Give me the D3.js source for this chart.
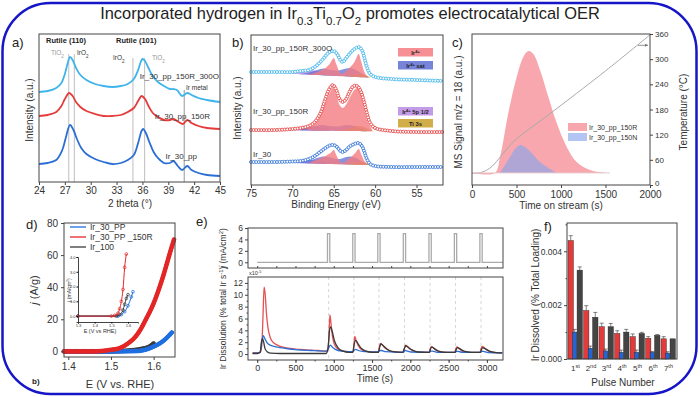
<!DOCTYPE html>
<html>
<head>
<meta charset="utf-8">
<script src="https://cdn.jsdelivr.net/npm/d3@7"></script>
<style>
body { margin: 0; background: #fff; }
svg { font-family: "Liberation Sans", Arial, sans-serif; }
</style>
</head>
<body>
<div id="fig"></div>
<script>
// ---- data ----
// a) XRD patterns [2theta, intensity a.u.]
const xrdTicks = [24, 27, 30, 33, 36, 39, 42, 45];
const xrd300O = [[24,90],[25,91],[26,94],[26.6,99],[27.0,108],[27.3,118],[27.6,125],[27.9,122],[28.3,114],[28.8,107],[29.5,102],[30.5,98],[31.5,96],[32.5,95],[33.5,96],[34.3,98],[35.0,103],[35.5,112],[35.8,120],[36.0,123],[36.3,121],[36.7,114],[37.2,106],[37.8,100],[38.5,96],[39.2,93],[39.6,93],[40.0,92],[40.6,86],[41.2,89],[41.7,87],[42.5,84],[43.5,82],[45,80]];
const xrd150R = [[24,66],[25,67],[26,70],[26.6,76],[27.0,83],[27.5,89],[27.9,86],[28.3,80],[28.8,75],[29.5,71],[30.5,68],[31.5,66],[32.5,66],[33.5,67],[34.3,70],[35.0,74],[35.5,81],[35.9,86],[36.3,83],[36.7,76],[37.2,69],[37.8,65],[38.5,62],[39.2,62],[39.6,63],[40.2,60],[40.7,58],[41.2,62],[41.7,59],[42.5,56],[43.5,54],[45,53]];
const xrdPP = [[24,18],[25,19],[26,22],[26.7,32],[27.1,44],[27.6,57],[28.0,52],[28.4,43],[28.9,34],[29.5,28],[30.5,23],[31.5,20],[32.5,18],[33.5,19],[34.3,22],[35.0,27],[35.5,39],[35.9,51],[36.1,53],[36.4,49],[36.8,40],[37.3,30],[37.8,24],[38.5,19],[39.2,19],[39.6,21],[40.1,16],[40.6,12],[41.2,16],[41.7,12],[42.5,9],[43.5,7],[45,6]];
const refLines = [27.45, 28.1, 34.9, 36.25];
const irMetal = 40.85;

// b) XPS Ir 4f / Ti 3s [binding energy eV, intensity]
const xpsTicks = [75, 70, 65, 60, 55];
const bgTop = [113, 104], bgMid = [55, 53], bgBot = [23, 18];
const envTop = [[75,113],[72,113],[70,113],[69,114],[68,115],[67.3,118],[66.5,124],[66,129],[65.5,133],[65,134],[64.6,131],[64.2,125],[63.9,123],[63.5,127],[63,132],[62.5,136],[62,138],[61.6,135],[61.3,127],[61,118],[60.6,111],[60,108],[58,106],[55,105],[51.8,104]];
const envMid = [[75,55],[72,55],[70,56],[69,57],[68,59],[67.3,63],[66.6,72],[66.1,84],[65.6,95],[65.1,100],[64.7,95],[64.3,86],[63.9,83],[63.5,86],[63.1,93],[62.6,99],[62.2,99],[61.8,95],[61.4,85],[61.0,72],[60.6,62],[60,57],[58,54],[55,53],[51.8,53]];
const envBot = [[75,23],[72,23],[70,23.5],[69,24],[68,26],[67.3,29],[66.5,34],[66,37],[65.5,39.5],[65,40],[64.6,38],[64.2,34],[63.9,33],[63.5,35],[63,39],[62.5,41],[62,42],[61.6,39],[61.3,33],[61,26],[60.6,21],[60,19],[58,18],[55,18],[51.8,18]];
const ir4Top = [[68,110.5],[67,113],[66,117],[65.5,121],[65,127],[64.7,121],[64.3,113],[64,111],[63.5,114],[63,118],[62.5,123],[62,131],[61.7,124],[61.3,113],[60.9,108]];
const satTop = [[69,111],[68,112.5],[67,115],[66.2,116.5],[65.3,115],[64.5,114.5],[63.5,116.5],[63,117],[62.3,115],[61.5,111],[60.8,108]];
const p5Top = [[70,113],[68.8,114.5],[68,115],[67,114],[66,112]];
const ti3sTop = [[63.5,108],[62.5,110],[62,111],[61.3,110],[60.6,108]];
const ir4Mid = [[68.2,57],[67.3,61],[66.6,70],[66,82],[65.5,92],[65.1,97],[64.7,90],[64.3,80],[63.9,77],[63.4,82],[62.9,90],[62.4,96],[62.1,97],[61.7,89],[61.3,75],[60.9,63],[60.4,56]];
const satMid = [[69,56],[67.5,58.5],[66.5,60],[65.5,59],[64.5,58.5],[63.5,60],[62.5,59],[61.5,56],[61,55]];
const p5Mid = [[70,55.5],[68.5,57.5],[67.5,58.5],[66.5,57.5],[65.5,56]];
const ti3sMid = [[64,54.5],[63,57],[62.2,59],[61.5,58.5],[60.8,56],[60.2,54]];
const ir4Bot = [[67.8,23],[66.8,26],[66,29],[65.4,32],[65,35],[64.7,30],[64.3,24],[63.9,22],[63.4,25],[62.9,28],[62.4,32],[62,36],[61.7,31],[61.3,24],[60.9,20]];
const satBot = [[69,23],[67.8,25],[66.8,27.5],[66.1,28.5],[65.2,27],[64.3,26],[63.5,28],[63,28.5],[62.3,27],[61.5,23],[60.8,20]];
const p5Bot = [[70,22.5],[68.8,24],[68,25],[67,24.5],[66,23]];
const ti3sBot = [[63.5,20],[62.6,22.5],[62,23.5],[61.3,23],[60.5,20]];

// c) TPD water signal [time s, MS signal] and temperature [time s, degC]
const tpdTicks = [0, 500, 1000, 1500, 2000];
const tempTicks = [0, 60, 120, 180, 240, 300, 360];
const ms150R = [[0,8],[258,8],[315,18.5],[408,47.7],[502,71.5],[577,84.8],[633,88.7],[689,86.8],[764,76.2],[858,58.3],[952,41],[1064,25.2],[1176,15.2],[1326,9.9],[1514,8],[1550,8]];
const ms150N = [[315,8],[371,13.2],[427,18.5],[483,23.8],[539,26.5],[596,25.2],[670,21.2],[764,15.2],[858,11.3],[952,8]];
const temperature = [[0,28],[100,30],[200,40],[300,62],[400,88],[500,110],[750,150],[1000,190],[1500,272],[2000,358]];

// d) polarisation curves [E V vs RHE, j A/g]
const eTicks = [1.4, 1.5, 1.6];
const jTicks = [0, 20, 40, 60, 80];
const pol30 = [[1.39,0],[1.5,0],[1.56,0.2],[1.58,1],[1.6,3],[1.62,6],[1.64,11],[1.645,12.5]];
const pol150R = [[1.39,0],[1.46,0],[1.5,1],[1.52,2],[1.54,5],[1.56,10],[1.57,14],[1.58,19],[1.6,30],[1.62,45],[1.64,63],[1.648,70]];
const pol100 = [[1.39,0],[1.5,0],[1.54,0.5],[1.57,1.5],[1.59,3],[1.6,5]];
// inset [E, j mA/cm2]
const ins30 = [[1.3,0],[1.54,0],[1.56,0.1],[1.58,0.3],[1.6,0.7],[1.62,1.3],[1.63,1.65]];
const ins150R = [[1.3,0],[1.5,0],[1.52,0.05],[1.54,0.2],[1.55,0.5],[1.56,1.0],[1.57,1.8],[1.58,3.3],[1.59,4.2]];
const ins100 = [[1.3,0],[1.53,0],[1.55,0.1],[1.57,0.4],[1.58,0.8],[1.59,1.2],[1.6,1.45]];

// e) online ICP-MS dissolution [time s, % total Ir /s x1e-5]
const timeTicks = [0, 500, 1000, 1500, 2000, 2500, 3000];
const pulseStart = [918, 1248, 1575, 1908, 2243, 2575, 2908];
const pulseWidth = 30, pulseJ = 5;
const dissRed = [[-60,0.2],[0,0.2],[40,0.3],[60,1.5],[75,6],[90,11.3],[105,10],[120,7],[140,4.5],[170,2.8],[200,2.1],[250,1.6],[300,1.3],[400,1.0],[500,0.85],[600,0.75],[700,0.65],[800,0.6],[900,0.5],[920,0.5],[935,2.5],[950,6.6],[965,5],[985,2.8],[1010,1.6],[1050,0.9],[1100,0.6],[1200,0.4],[1250,0.4],[1262,1.5],[1275,3.0],[1290,2.4],[1320,1.4],[1370,0.7],[1450,0.4],[1580,0.35],[1595,1.2],[1610,1.8],[1630,1.6],[1670,1.0],[1720,0.6],[1800,0.35],[1910,0.3],[1925,1.0],[1940,1.5],[1960,1.3],[2000,0.8],[2060,0.45],[2150,0.3],[2245,0.3],[2258,0.9],[2275,1.2],[2295,1.1],[2340,0.6],[2400,0.35],[2500,0.3],[2580,0.3],[2593,0.9],[2610,1.2],[2630,1.0],[2680,0.5],[2750,0.3],[2910,0.3],[2925,1.0],[2940,1.3],[2960,1.1],[3010,0.6],[3080,0.3],[3200,0.2]];
const dissBlack = [[-60,0.1],[0,0.1],[40,0.3],[55,2.0],[70,2.6],[85,2.0],[100,1.0],[130,0.4],[180,0.15],[300,0.1],[900,0.1],[925,1.0],[945,4.0],[960,4.6],[980,3.8],[1010,2.2],[1060,1.0],[1120,0.5],[1200,0.3],[1250,0.3],[1265,1.5],[1285,2.3],[1310,1.9],[1350,1.1],[1420,0.5],[1500,0.3],[1585,0.3],[1600,1.2],[1615,1.7],[1640,1.5],[1690,0.9],[1760,0.45],[1900,0.3],[1920,0.9],[1940,1.4],[1965,1.2],[2020,0.7],[2100,0.35],[2250,0.3],[2265,0.9],[2280,1.2],[2305,1.0],[2360,0.55],[2450,0.3],[2585,0.3],[2600,0.8],[2615,1.1],[2640,0.95],[2700,0.5],[2800,0.3],[2915,0.3],[2930,0.8],[2945,1.1],[2970,0.95],[3030,0.5],[3120,0.25],[3200,0.2]];
const dissBlue = [[-60,0.15],[0,0.15],[40,0.4],[60,2.0],[80,3.1],[100,2.6],[130,1.9],[170,1.5],[220,1.3],[300,1.1],[400,0.9],[500,0.75],[700,0.6],[900,0.5],[930,0.9],[955,1.5],[980,1.2],[1020,0.8],[1100,0.5],[1250,0.4],[1270,0.7],[1285,0.8],[1320,0.6],[1400,0.4],[1580,0.35],[1600,0.6],[1620,0.6],[1680,0.4],[1910,0.3],[1930,0.6],[1950,0.55],[2010,0.35],[2250,0.3],[2270,0.5],[2290,0.5],[2350,0.3],[2590,0.3],[2605,0.5],[2625,0.45],[2690,0.3],[2920,0.3],[2935,0.5],[2955,0.45],[3020,0.25],[3200,0.2]];

// f) dissolved Ir per pulse (% total loading)
const pulses = ["1", "2", "3", "4", "5", "6", "7"];
const pulseSup = ["st", "nd", "rd", "th", "th", "th", "th"];
const dissolvedRed = [0.0044, 0.0018, 0.0012, 0.00095, 0.00083, 0.00077, 0.00075];
const dissolvedBlue = [0.001, 0.0004, 0.0003, 0.00025, 0.00025, 0.00025, 0.00022];
const dissolvedBlack = [0.0033, 0.00155, 0.0012, 0.001, 0.00095, 0.00088, 0.00075];
const errRed = [0.00018, 0.00018, 0.00013, 0.0001, 0.0001, 0.00006, 0.00008];
const errBlue = [0.0001, 0.00008, 0.00007, 0.00008, 0.00008, 0.00003, 0.00005];
const errBlack = [0.00012, 0.00018, 0.00012, 0.0001, 0.00004, 0.00003, 0];
const dissTicks = [0, 0.002, 0.004];

// ---- helpers ----
const svg = d3.select("#fig").append("svg").attr("width", 700).attr("height", 397);

function label(g, x, y, s, o = {}) {
  const t = g.append("text").attr("x", x).attr("y", y).text(s)
    .attr("font-size", o.size || 9).attr("fill", o.fill || "#333")
    .attr("text-anchor", o.anchor || "start");
  if (o.weight) t.attr("font-weight", o.weight);
  if (o.rotate) t.attr("transform", `rotate(-90,${x},${y})`);
  return t;
}
// parts: [[text, "sup"|"sub"|""], ...]
function rich(g, x, y, parts, o = {}) {
  const t = label(g, x, y, "", o);
  parts.forEach(([s, k]) => {
    const sp = t.append("tspan").text(s);
    if (k) sp.attr("baseline-shift", k === "sup" ? "super" : "sub").attr("font-size", (o.size || 9) * 0.7);
  });
  return t;
}
function frame(g, x0, y0, x1, y1) {
  g.append("rect").attr("x", x0).attr("y", y0).attr("width", x1 - x0).attr("height", y1 - y0)
    .attr("fill", "none").attr("stroke", "#444").attr("stroke-width", 1);
}
function styleAxis(a, size) {
  a.select(".domain").remove();
  a.selectAll("line").attr("stroke", "#444");
  a.selectAll("text").attr("font-size", size || 9).attr("fill", "#333")
    .attr("font-family", '"Liberation Sans", Arial, sans-serif');
}
function dotsAlong(g, node, step, r, stroke, fill) {
  const L = node.getTotalLength();
  for (let s = 0; s <= L; s += step) {
    const p = node.getPointAtLength(s);
    g.append("circle").attr("cx", p.x).attr("cy", p.y).attr("r", r)
      .attr("fill", fill).attr("stroke", stroke).attr("stroke-width", 0.8);
  }
}

// ---- title and border ----
svg.append("rect").attr("x", 2.5).attr("y", 3).attr("width", 694).attr("height", 391)
  .attr("rx", 48).attr("ry", 48).attr("fill", "none").attr("stroke", "#1616c8").attr("stroke-width", 2.5);
rich(svg, 350, 19, [["Incorporated hydrogen in Ir", ""], ["0.3", "sub"], ["Ti", ""], ["0.7", "sub"], ["O", ""], ["2", "sub"], [" promotes electrocatalytical OER", ""]],
  { size: 16.4, anchor: "middle", fill: "#222" });

// ---- a) XRD ----
{
  const g = svg.append("g");
  const x = d3.scaleLinear().domain([24, 45]).range([39, 220]);
  const y = d3.scaleLinear().domain([0, 148]).range([182, 34]);
  const line = d3.line().x(d => x(d[0])).y(d => y(d[1])).curve(d3.curveCatmullRom);

  refLines.forEach(v => g.append("line").attr("x1", x(v)).attr("x2", x(v))
    .attr("y1", y(v < 30 ? 128 : 124)).attr("y2", 182).attr("stroke", "#c4c4c4").attr("stroke-width", 1.1));
  g.append("line").attr("x1", x(irMetal)).attr("x2", x(irMetal)).attr("y1", y(92)).attr("y2", 182)
    .attr("stroke", "#a0a0a0").attr("stroke-width", 1.1);

  [[xrd300O, "#3fb4ea"], [xrd150R, "#e63b3b"], [xrdPP, "#2c6fd4"]].forEach(([d, c]) =>
    g.append("path").datum(d).attr("d", line).attr("fill", "none").attr("stroke", c).attr("stroke-width", 1.8));

  frame(g, 39, 34, 220, 182);
  const ax = g.append("g").attr("transform", "translate(0,182)")
    .call(d3.axisBottom(x).tickValues(xrdTicks).tickSize(3).tickPadding(2));
  styleAxis(ax, 10);
  label(g, 130, 207, "2 theta (°)", { size: 10, anchor: "middle" });
  label(g, 33, 110, "Intensity (a.u.)", { size: 10, anchor: "middle", rotate: true });
  label(g, 12, 47, "a)", { size: 13, fill: "#222" });

  label(g, 46, 43, "Rutile (110)", { size: 7.5, weight: "bold", fill: "#222" });
  label(g, 116, 43, "Rutile (101)", { size: 7.5, weight: "bold", fill: "#222" });
  rich(g, 51, 55, [["TiO", ""], ["2", "sub"]], { size: 6.5, fill: "#999" });
  rich(g, 77, 55, [["IrO", ""], ["2", "sub"]], { size: 6.5, fill: "#333" });
  rich(g, 113, 60, [["IrO", ""], ["2", "sub"]], { size: 6.5, fill: "#333" });
  rich(g, 152, 60, [["TiO", ""], ["2", "sub"]], { size: 6.5, fill: "#999" });
  label(g, 219, 79, "Ir_30_pp_150R_300O", { size: 8, anchor: "end" });
  label(g, 186, 90, "Ir metal", { size: 6.5 });
  label(g, 210, 119, "Ir_30_pp_150R", { size: 8, anchor: "end" });
  label(g, 197, 159, "Ir_30_pp", { size: 8, anchor: "end" });
}

// ---- b) XPS ----
{
  const g = svg.append("g");
  const x = d3.scaleLinear().domain([75, 51.8]).range([251, 443]);
  const y = d3.scaleLinear().domain([0, 150]).range([185, 35]);
  const line = d3.line().x(d => x(d[0])).y(d => y(d[1])).curve(d3.curveCatmullRom);
  const colors = { ir4: "#f47c82", sat: "#5e6fd4", p5: "#b88ae2", ti: "#c9a02a" };

  const spectra = [
    { env: envTop, bg: bgTop, c: "#3cb2e8", comps: [[p5Top, "p5"], [satTop, "sat"], [ti3sTop, "ti"], [ir4Top, "ir4"]] },
    { env: envMid, bg: bgMid, c: "#e63b3b", comps: [[p5Mid, "p5"], [satMid, "sat"], [ti3sMid, "ti"], [ir4Mid, "ir4"]] },
    { env: envBot, bg: bgBot, c: "#2c6fd4", comps: [[p5Bot, "p5"], [satBot, "sat"], [ti3sBot, "ti"], [ir4Bot, "ir4"]] }
  ];
  spectra.forEach(s => {
    const base = d3.scaleLinear().domain([75, 51.8]).range(s.bg);
    s.comps.forEach(([d, k]) => {
      const area = d3.area().x(p => x(p[0])).y0(p => y(base(p[0]))).y1(p => y(p[1])).curve(d3.curveCatmullRom);
      g.append("path").datum(d).attr("d", area).attr("fill", colors[k]).attr("opacity", k === "ir4" ? 0.8 : 0.75);
    });
    const p = g.append("path").datum(s.env).attr("d", line).attr("fill", "none").attr("stroke", s.c).attr("stroke-width", 1.2);
    dotsAlong(g, p.node(), 2.6, 1.5, s.c, "#fff");
  });

  frame(g, 251, 35, 443, 185);
  const ax = g.append("g").attr("transform", "translate(0,185)")
    .call(d3.axisBottom(x).tickValues(xpsTicks).tickSize(3).tickPadding(2));
  styleAxis(ax, 10);
  label(g, 336, 208, "Binding Energy (eV)", { size: 10, anchor: "middle" });
  label(g, 241, 108, "Intensity (a.u.)", { size: 10, anchor: "middle", rotate: true });
  label(g, 232, 47, "b)", { size: 13, fill: "#222" });

  label(g, 253, 51, "Ir_30_pp_150R_300O", { size: 8 });
  label(g, 253, 114, "Ir_30_pp_150R", { size: 8 });
  label(g, 253, 157, "Ir_30", { size: 8 });

  const leg = [["ir4", 48, "Ir", "4+", ""], ["sat", 61, "Ir", "4+", " sat"], ["p5", 107, "Ir", "4+", " 5p 1/2"], ["ti", 119, "Ti 3s", "", ""]];
  leg.forEach(([k, yy, a, b, c]) => {
    g.append("rect").attr("x", 398).attr("y", yy).attr("width", 35).attr("height", 8.5).attr("fill", colors[k]).attr("opacity", 0.85);
    rich(g, 415.5, yy + 6.8, [[a, ""], [b, "sup"], [c, ""]], { size: 5.8, anchor: "middle", fill: "#222", weight: "bold" });
  });
}

// ---- c) TPD ----
{
  const g = svg.append("g");
  const x = d3.scaleLinear().domain([0, 2000]).range([472, 650]);
  const y = d3.scaleLinear().domain([0, 100]).range([185, 34]);
  const yT = d3.scaleLinear().domain([0, 360]).range([185, 34]);
  const area = d3.area().x(d => x(d[0])).y0(y(8)).y1(d => y(d[1])).curve(d3.curveCatmullRom);

  g.append("path").datum(ms150R).attr("d", area).attr("fill", "#f48a92").attr("opacity", 0.75);
  g.append("path").datum(ms150N).attr("d", area).attr("fill", "#8aa6ec").attr("opacity", 0.65);
  g.append("path").datum(temperature)
    .attr("d", d3.line().x(d => x(d[0])).y(d => yT(d[1])).curve(d3.curveCatmullRom))
    .attr("fill", "none").attr("stroke", "#aaa").attr("stroke-width", 1);
  g.append("line").attr("x1", x(0)).attr("x2", x(1550)).attr("y1", y(8)).attr("y2", y(8)).attr("stroke", "#e8c8cc").attr("stroke-width", 1);

  g.append("line").attr("x1", 638).attr("x2", 648).attr("y1", yT(333)).attr("y2", yT(333)).attr("stroke", "#777").attr("stroke-width", 0.8);
  g.append("path").attr("d", `M648,${yT(333)} l-3,-1.5 l0,3 z`).attr("fill", "#777");

  frame(g, 472, 34, 650, 185);
  const ax = g.append("g").attr("transform", "translate(0,185)")
    .call(d3.axisBottom(x).tickValues(tpdTicks).tickFormat(d3.format("d")).tickSize(3).tickPadding(3));
  styleAxis(ax, 10);
  const ar = g.append("g").attr("transform", "translate(650,0)")
    .call(d3.axisRight(yT).tickValues(tempTicks).tickSize(3).tickPadding(2));
  styleAxis(ar, 8);
  ar.selectAll("text").filter(d => d === 0).attr("dy", "0.1em");
  label(g, 561, 209, "Time on stream (s)", { size: 10, anchor: "middle" });
  label(g, 462, 112, "MS Signal m/z = 18 (a.u.)", { size: 10, anchor: "middle", rotate: true });
  label(g, 687, 112, "Temperature (°C)", { size: 10, anchor: "middle", rotate: true });
  label(g, 452, 47, "c)", { size: 13, fill: "#222" });

  g.append("rect").attr("x", 568).attr("y", 123).attr("width", 19).attr("height", 8).attr("fill", "#f48a92").attr("opacity", 0.75);
  g.append("rect").attr("x", 568).attr("y", 133).attr("width", 19).attr("height", 8).attr("fill", "#8aa6ec").attr("opacity", 0.65);
  label(g, 589, 130, "Ir_30_pp_150R", { size: 7 });
  label(g, 589, 140, "Ir_30_pp_150N", { size: 7 });
}

// ---- d) polarisation ----
{
  const g = svg.append("g");
  const x = d3.scaleLinear().domain([1.39, 1.65]).range([64, 175]);
  const y = d3.scaleLinear().domain([-3.5, 80]).range([357, 223]);
  const line = d3.line().x(d => x(d[0])).y(d => y(d[1])).curve(d3.curveMonotoneX);
  [[pol100, "#3a3a3a"], [pol30, "#1f6fe0"], [pol150R, "#e42626"]].forEach(([d, c]) => {
    const p = g.append("path").datum(d).attr("d", line).attr("fill", "none").attr("stroke", c).attr("stroke-width", 3.5);
    dotsAlong(g, p.node(), 1.6, 1.9, c, c);
  });

  frame(g, 64, 223, 175, 357);
  const ax = g.append("g").attr("transform", "translate(0,357)")
    .call(d3.axisBottom(x).tickValues(eTicks).tickFormat(d3.format(".1f")).tickSize(3).tickPadding(3));
  styleAxis(ax, 10);
  const ay = g.append("g").attr("transform", "translate(64,0)")
    .call(d3.axisLeft(y).tickValues(jTicks).tickSize(3).tickPadding(3));
  styleAxis(ay, 10);
  label(g, 120, 388, "E (V vs. RHE)", { size: 11, anchor: "middle" });
  rich(g, 38, 290, [["j", ""], [" (A/g)", ""]], { size: 11, anchor: "middle", rotate: true }).select("tspan").attr("font-style", "italic");
  label(g, 26, 229, "d)", { size: 13, fill: "#222" });
  label(g, 32, 384, "b)", { size: 8, weight: "bold", fill: "#222" });

  [["Ir_30_PP", "#1f6fe0", 230], ["Ir_30_PP _150R", "#e42626", 240], ["Ir_100", "#3a3a3a", 250]].forEach(([s, c, yy]) => {
    g.append("line").attr("x1", 70).attr("x2", 86).attr("y1", yy - 3).attr("y2", yy - 3).attr("stroke", c).attr("stroke-width", 1.3);
    label(g, 90, yy, s, { size: 8.5 });
  });

  // inset
  const xi = d3.scaleLinear().domain([1.3, 1.66]).range([78, 138]);
  const yi = d3.scaleLinear().domain([-0.4, 4]).range([322, 257]);
  [[ins30, "#1f6fe0"], [ins100, "#3a3a3a"], [ins150R, "#e42626"]].forEach(([d, c]) => {
    g.append("path").datum(d).attr("d", d3.line().x(p => xi(p[0])).y(p => yi(p[1])).curve(d3.curveMonotoneX))
      .attr("fill", "none").attr("stroke", c).attr("stroke-width", 1);
    g.selectAll(null).data(d).join("circle")
      .attr("cx", p => xi(p[0])).attr("cy", p => yi(p[1])).attr("r", 1.4)
      .attr("fill", "none").attr("stroke", c).attr("stroke-width", 0.7);
  });
  const axi = g.append("g").attr("transform", "translate(0,322)")
    .call(d3.axisBottom(xi).tickValues([1.3, 1.4, 1.5, 1.6]).tickFormat(d3.format(".1f")).tickSize(1.5).tickPadding(1));
  axi.select(".domain").attr("stroke", "#444");
  axi.selectAll("text").attr("font-size", 4).attr("fill", "#333");
  const ayi = g.append("g").attr("transform", "translate(78,0)")
    .call(d3.axisLeft(yi).tickValues([0, 1, 2, 3, 4]).tickSize(1.5).tickPadding(1));
  ayi.select(".domain").attr("stroke", "#444");
  ayi.selectAll("text").attr("font-size", 4).attr("fill", "#333");
  label(g, 100, 333, "E (V vs RHE)", { size: 5.5, anchor: "middle" });
  rich(g, 71, 290, [["j", ""], [" (mA/cm", ""], ["2", "sup"], [")", ""]], { size: 5, anchor: "middle", rotate: true });
}

// ---- e) dissolution ----
{
  const g = svg.append("g");
  const x = d3.scaleLinear().domain([-120, 3210]).range([248, 503]);
  const yTop = d3.scaleLinear().domain([-1, 6]).range([268, 228]);
  const yBot = d3.scaleLinear().domain([-1, 13]).range([360, 277]);

  // pulse profile built from pulse start times
  const profile = [[0, 0]];
  pulseStart.forEach(t => { profile.push([t, 0], [t, pulseJ], [t + pulseWidth, pulseJ], [t + pulseWidth, 0]); });
  profile.push([3210, 0]);
  g.append("path").datum(profile).attr("d", d3.line().x(d => x(d[0])).y(d => yTop(d[1])))
    .attr("fill", "none").attr("stroke", "#aaa").attr("stroke-width", 1.3);

  pulseStart.forEach(t => g.append("line").attr("x1", x(t + 15)).attr("x2", x(t + 15)).attr("y1", 277).attr("y2", 360)
    .attr("stroke", "#ccc").attr("stroke-width", 0.8).attr("stroke-dasharray", "3,3"));

  const line = d3.line().x(d => x(d[0])).y(d => yBot(d[1])).curve(d3.curveMonotoneX);
  [[dissRed, "#e65050"], [dissBlue, "#2c6fd4"], [dissBlack, "#3a3a3a"]].forEach(([d, c]) =>
    g.append("path").datum(d).attr("d", line).attr("fill", "none").attr("stroke", c).attr("stroke-width", 1.3));

  frame(g, 248, 228, 503, 268);
  frame(g, 248, 277, 503, 360);
  const minor = d3.range(0, 3201, 250);
  const ax = g.append("g").attr("transform", "translate(0,360)")
    .call(d3.axisBottom(x).tickValues(timeTicks).tickFormat(d3.format("d")).tickSize(3).tickPadding(2));
  styleAxis(ax, 9);
  g.append("g").attr("transform", "translate(0,360)").call(d3.axisBottom(x).tickValues(minor).tickSize(1.5).tickFormat(""))
    .call(a => styleAxis(a));
  g.append("g").attr("transform", "translate(0,268)").call(d3.axisTop(x).tickValues(minor).tickSize(2).tickFormat(""))
    .call(a => styleAxis(a));
  const at = g.append("g").attr("transform", "translate(248,0)")
    .call(d3.axisLeft(yTop).tickValues([0, 2, 4, 6]).tickFormat(d3.format("d")).tickSize(3).tickPadding(2));
  styleAxis(at, 8.5);
  const ab = g.append("g").attr("transform", "translate(248,0)")
    .call(d3.axisLeft(yBot).tickValues([0, 2, 4, 6, 8, 10, 12]).tickFormat(d3.format("d")).tickSize(3).tickPadding(2));
  styleAxis(ab, 8.5);
  g.append("g").attr("transform", "translate(248,0)")
    .call(d3.axisLeft(yBot).tickValues([1, 3, 5, 7, 9, 11]).tickSize(1.5).tickFormat("")).call(a => styleAxis(a));

  rich(g, 249, 275, [["x10", ""], ["-5", "sup"]], { size: 5.5 });
  label(g, 375, 382, "Time (s)", { size: 10, anchor: "middle" });
  const jl = rich(g, 226, 248, [["j", ""], [" (mA/cm", ""], ["2", "sup"], [")", ""]], { size: 8.5, anchor: "middle", rotate: true });
  jl.select("tspan").attr("font-style", "italic");
  rich(g, 226, 318, [["Ir Dissolution (% total Ir s", ""], ["-1", "sup"], [")", ""]], { size: 8.5, anchor: "middle", rotate: true });
  label(g, 196, 226, "e)", { size: 13, fill: "#222" });
}

// ---- f) dissolved per pulse ----
{
  const g = svg.append("g");
  const x = d3.scaleBand().domain(pulses).range([567, 677]).paddingInner(0.0).paddingOuter(0.05);
  const y = d3.scaleLinear().domain([0, 0.00505]).range([359, 223]);
  const bw = x.bandwidth() / 3;
  const series = [[dissolvedRed, errRed, "#e23b3b", 0.05, bw * 1.05], [dissolvedBlue, errBlue, "#1f66d8", 0.95, bw * 0.8], [dissolvedBlack, errBlack, "#444", 1.8, bw * 1.05]];
  series.forEach(([vals, errs, c, off, w]) => {
    pulses.forEach((p, i) => {
      const x0 = x(p) + off * bw;
      g.append("rect").attr("x", x0).attr("y", y(vals[i])).attr("width", w).attr("height", y(0) - y(vals[i]))
        .attr("fill", c).attr("stroke", "#222").attr("stroke-width", 0.4);
      if (errs[i] > 0) {
        const cx = x0 + w / 2;
        g.append("line").attr("x1", cx).attr("x2", cx).attr("y1", y(vals[i])).attr("y2", y(vals[i] + errs[i])).attr("stroke", "#333").attr("stroke-width", 0.6);
        g.append("line").attr("x1", cx - 2).attr("x2", cx + 2).attr("y1", y(vals[i] + errs[i])).attr("y2", y(vals[i] + errs[i])).attr("stroke", "#333").attr("stroke-width", 0.6);
      }
    });
  });
  frame(g, 567, 223, 677, 359);
  const ay = g.append("g").attr("transform", "translate(567,0)")
    .call(d3.axisLeft(y).tickValues(dissTicks).tickFormat(d3.format(".3f")).tickSize(3).tickPadding(2));
  styleAxis(ay, 8.5);
  g.append("g").attr("transform", "translate(567,0)")
    .call(d3.axisLeft(y).tickValues([0.001, 0.003, 0.005]).tickSize(1.5).tickFormat("")).call(a => styleAxis(a));
  pulses.forEach((p, i) => rich(g, x(p) + x.bandwidth() / 2, 371, [[p, ""], [pulseSup[i], "sup"]], { size: 8, anchor: "middle" }));
  label(g, 623, 386, "Pulse Number", { size: 10, anchor: "middle" });
  rich(g, 539, 295, [["Ir Dissolved (% Total Loading)", ""]], { size: 10, anchor: "middle", rotate: true });
  label(g, 544, 231, "f)", { size: 13, fill: "#222" });
}
</script>
</body>
</html>
